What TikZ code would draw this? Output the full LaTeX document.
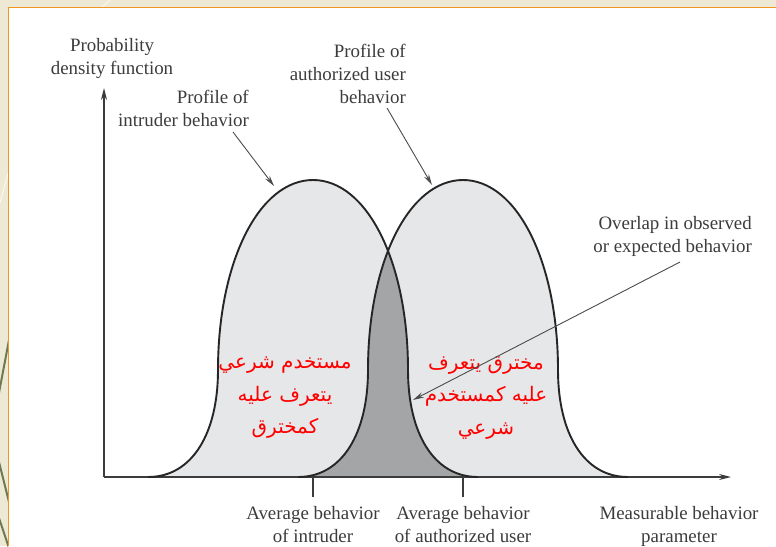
\documentclass[tikz,border=0pt]{standalone}
\usepackage{fontspec}
\setmainfont{Liberation Serif}
\newfontfamily\arabicfont[Script=Arabic]{DejaVu Sans}
\TeXXeTstate=1
\usepackage{tikz}
\usetikzlibrary{arrows,arrows.meta}
\usepackage{xcolor}

\definecolor{slidebg}{HTML}{EDE9D4}
\definecolor{slideline}{HTML}{F29422}
\definecolor{leafgreen}{HTML}{6E7B52}
\definecolor{lightarea}{HTML}{E6E7E8}
\definecolor{darkarea}{HTML}{A4A5A7}
\definecolor{inkgray}{HTML}{3C3C3C}

\tikzset{
  lbl/.style={font=\fontsize{18.9}{23}\selectfont, text=inkgray, inner sep=0pt},
  arlbl/.style={font=\arabicfont\fontsize{20}{32.5}\selectfont, text=red, align=center, inner sep=0pt},
  bell/.style={line width=1.9pt, draw=black!85},
  pointer/.style={-{Stealth[length=11pt,width=5.5pt]}, line width=0.9pt, draw=black!70},
  axisline/.style={-{Stealth[length=12pt,width=6pt]}, line width=1.3pt, draw=inkgray}
}

% profile of the intruder, centred at x=313 (shift by 150 for the user)
\newcommand{\profile}{(148,477) .. controls (193,477) and (218,432) .. (218,370)
  .. controls (218,262) and (259,180) .. (313,180)
  .. controls (367,180) and (408,262) .. (408,370)
  .. controls (408,432) and (433,477) .. (478,477)}

\begin{document}
\begin{tikzpicture}[x=1pt,y=-1pt]
\useasboundingbox (0,0) rectangle (776,546);

% slide frame
\fill[slidebg] (0,0) rectangle (776,546);
\begin{scope}
\clip (0,0) rectangle (8,546);
\draw[leafgreen, line width=2pt] (9,340) -- (-2,398);
\draw[leafgreen, line width=2pt] (-2,458) -- (9,502);
\draw[leafgreen, line width=2pt] (-2,515) -- (9,548);
\draw[white!70!slidebg, line width=1pt] (9,170) -- (-2,210);
\end{scope}
\begin{scope}
\clip (0,0) rectangle (776,7);
\draw[white!70!slidebg, line width=1pt] (112,-2) -- (100,9);
\end{scope}
\fill[white] (9,8) rectangle (776,546);
\draw[slideline, line width=1.6pt] (8.5,546) -- (8.5,7.5) -- (776,7.5);

% Profiles
\fill[lightarea] \profile -- cycle;
\fill[lightarea, xshift=150pt] \profile -- cycle;
\begin{scope}
\clip \profile -- cycle;
\fill[darkarea, xshift=150pt] \profile -- cycle;
\end{scope}

% axes
\coordinate (O) at (104,477);
\coordinate (ytop) at (104,88);
\coordinate (xend) at (731,477);
\draw[axisline] (O) -- (ytop);
\draw[axisline] (O) -- (xend);

\draw[bell] \profile;
\draw[bell, xshift=150pt] \profile;

% averages
\coordinate (mintr) at (313,477);
\coordinate (mauth) at (463,477);
\draw[line width=1.1pt, inkgray] (mintr) -- ++(0,20);
\draw[line width=1.1pt, inkgray] (mauth) -- ++(0,20);

% labels
\node[lbl, align=center, anchor=north] (pdf) at (112,38) {Probability\\density function};
\node[lbl, align=right, anchor=north east] (intr) at (249,90) {Profile of\\intruder behavior};
\node[lbl, align=right, anchor=north east] (auth) at (406,44) {Profile of\\authorized user\\behavior};
\node[lbl, align=right, anchor=north east] (ovl) at (752,216) {Overlap in observed\\or expected behavior};
\node[lbl, align=center, anchor=north] (avgintr) at (313,506) {Average behavior\\of intruder};
\node[lbl, align=center, anchor=north] (avgauth) at (463,506) {Average behavior\\of authorized user};
\node[lbl, align=center, anchor=north] (meas) at (679,506) {Measurable behavior\\parameter};

% Arabic notes
\node[arlbl] (falsepos) at (285,398) {\beginR مستخدم شرعي\endR\\\beginR يتعرف عليه\endR\\\beginR كمخترق\endR};
\node[arlbl] (falseneg) at (486,398) {\beginR مخترق يتعرف\endR\\\beginR عليه كمستخدم\endR\\\beginR شرعي\endR};

% pointers
\coordinate (intrfrom) at (233,132);
\coordinate (intrto) at (274,186);
\coordinate (authfrom) at (387,108);
\coordinate (authto) at (432,185);
\coordinate (ovlfrom) at (680,262);
\coordinate (ovlto) at (413,400);
\draw[pointer] (intrfrom) -- (intrto);
\draw[pointer] (authfrom) -- (authto);
\draw[pointer] (ovlfrom) -- (ovlto);

\end{tikzpicture}
\end{document}
